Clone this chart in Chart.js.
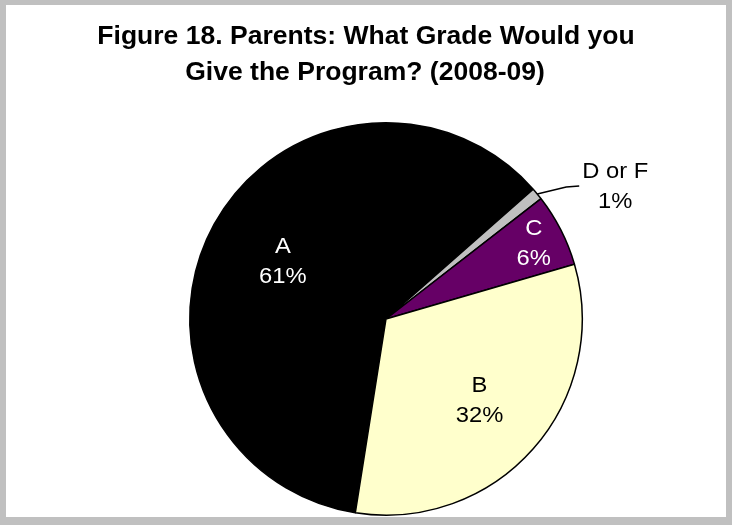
<!DOCTYPE html>
<html>
<head>
<meta charset="utf-8">
<script src="https://cdn.jsdelivr.net/npm/chart.js@4/dist/chart.umd.min.js"></script>
<style>
  html, body { margin: 0; padding: 0; background: #c0c0c0; width: 732px; height: 525px; overflow: hidden; }
  #frame { position: absolute; left: 6px; top: 5px; width: 720px; height: 512px; background: #ffffff; }
  canvas { display: block; }
</style>
</head>
<body>
<div id="frame"><canvas id="chart" width="720" height="512"></canvas></div>
<script>
// Survey answers, in the order the slices run clockwise
const categories = ['A', 'D or F', 'C', 'B'];
const percents = [61, 1, 6, 32];
const sliceColors = ['#000000', '#c0c0c0', '#660066', '#ffffcc'];
const titleLines = ['Figure 18. Parents: What Grade Would you', 'Give the Program? (2008-09)'];

const FONT = '"Liberation Sans", Arial, Helvetica, sans-serif';

// Where each slice's label sits: fraction of the radius along the slice's middle,
// or an outside callout with a leader line (offsets from the arc edge).
const labelStyle = {
  'A':      { radius: 0.60, color: '#ffffff' },
  'B':      { radius: 0.635, color: '#000000' },
  'C':      { radius: 0.845, color: '#ffffff' },
  'D or F': { outside: true, color: '#000000',
              elbow: [29, -7], end: [42, -8], text: [78, -7] }
};

const TEXT_STRETCH = 1.08;   // labels are drawn slightly wide
const LINE_GAP = 30;

function drawStretched(ctx, text, x, y, stretch) {
  ctx.save();
  ctx.translate(x, y);
  ctx.scale(stretch, 1);
  ctx.fillText(text, 0, 0);
  ctx.restore();
}

const textPlugin = {
  id: 'gradeText',
  afterDraw(chart) {
    const ctx = chart.ctx;
    ctx.save();
    ctx.textAlign = 'center';
    ctx.textBaseline = 'middle';

    // title
    ctx.fillStyle = '#000000';
    ctx.font = 'bold 26px ' + FONT;
    drawStretched(ctx, titleLines[0], 360, 32, 1.02);
    drawStretched(ctx, titleLines[1], 359, 68, 1.02);

    // slice labels
    ctx.font = '22px ' + FONT;
    const meta = chart.getDatasetMeta(0);
    meta.data.forEach((arc, i) => {
      const name = categories[i];
      const st = labelStyle[name];
      const p = arc.getProps(['x', 'y', 'startAngle', 'endAngle', 'outerRadius'], true);
      const mid = (p.startAngle + p.endAngle) / 2;
      const lines = [name, percents[i] + '%'];
      ctx.fillStyle = st.color;
      if (st.outside) {
        const ex = p.x + Math.cos(mid) * p.outerRadius;
        const ey = p.y + Math.sin(mid) * p.outerRadius;
        ctx.strokeStyle = '#000000';
        ctx.lineWidth = 1.5;
        ctx.beginPath();
        ctx.moveTo(ex, ey);
        ctx.lineTo(ex + st.elbow[0], ey + st.elbow[1]);
        ctx.lineTo(ex + st.end[0], ey + st.end[1]);
        ctx.stroke();
        const tx = ex + st.text[0], ty = ey + st.text[1];
        drawStretched(ctx, lines[0], tx, ty - LINE_GAP / 2, TEXT_STRETCH);
        drawStretched(ctx, lines[1], tx, ty + LINE_GAP / 2, TEXT_STRETCH);
      } else {
        const tx = p.x + Math.cos(mid) * p.outerRadius * st.radius;
        const ty = p.y + Math.sin(mid) * p.outerRadius * st.radius;
        drawStretched(ctx, lines[0], tx, ty - LINE_GAP / 2, TEXT_STRETCH);
        drawStretched(ctx, lines[1], tx, ty + LINE_GAP / 2, TEXT_STRETCH);
      }
    });
    ctx.restore();
  }
};

new Chart(document.getElementById('chart'), {
  type: 'pie',
  data: {
    labels: categories,
    datasets: [{
      data: percents,
      backgroundColor: sliceColors,
      borderColor: '#000000',
      borderWidth: 1.5,
      hoverOffset: 0
    }]
  },
  options: {
    responsive: false,
    animation: false,
    devicePixelRatio: 1,
    rotation: 189,
    layout: { padding: { left: 183, right: 143, top: 117, bottom: 1 } },
    plugins: {
      legend: { display: false },
      title: { display: false },
      tooltip: { enabled: false }
    }
  },
  plugins: [textPlugin]
});
</script>
</body>
</html>
